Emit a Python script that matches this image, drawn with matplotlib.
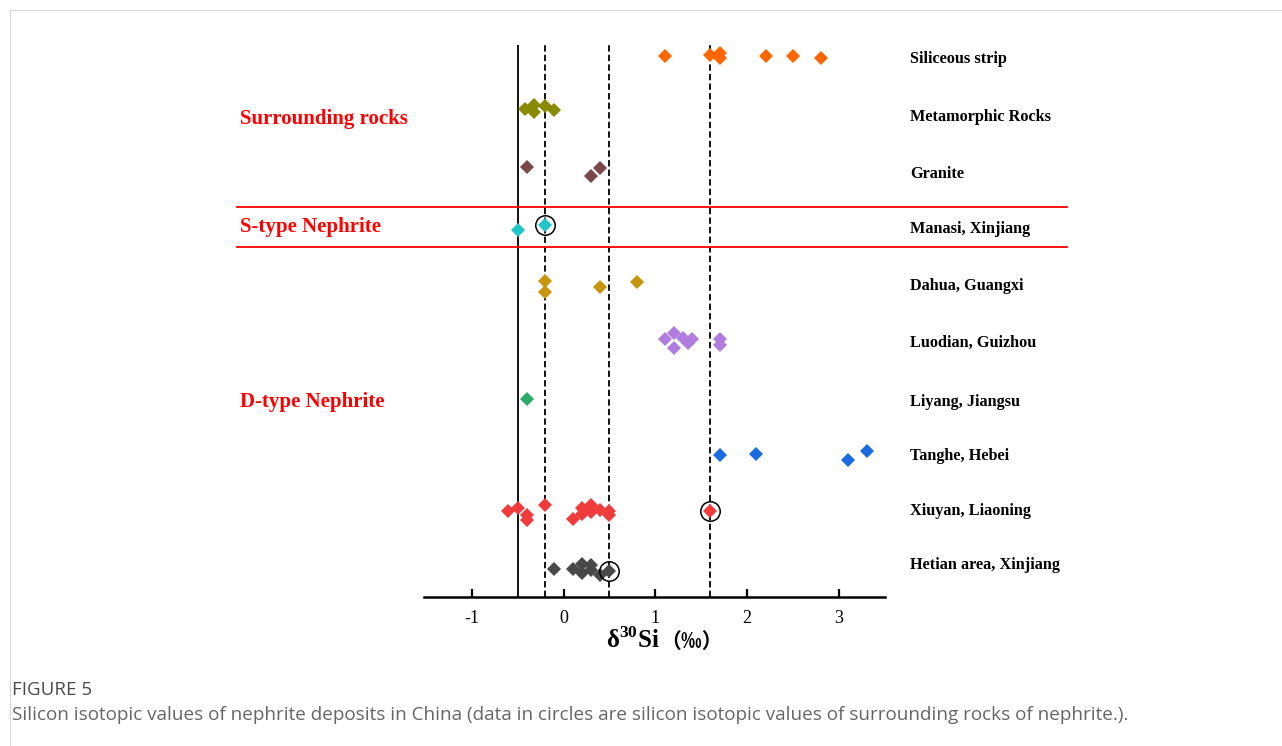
import matplotlib
matplotlib.use("Agg")
import matplotlib.pyplot as plt
from matplotlib.lines import Line2D

# ---- data (x = delta30Si in permil, y = row position, Siliceous strip = 10 ... Hetian = 1) ----
labels = ["Siliceous strip", "Metamorphic Rocks", "Granite", "Manasi, Xinjiang",
          "Dahua, Guangxi", "Luodian, Guizhou", "Liyang, Jiangsu", "Tanghe, Hebei",
          "Xiuyan, Liaoning", "Hetian area, Xinjiang"]
label_y = [10.0, 8.97, 7.96, 6.98, 5.96, 4.95, 3.90, 2.94, 1.96, 1.0]

siliceous_x = [1.1, 1.6, 1.7, 1.7, 2.2, 2.5, 2.8]
siliceous_y = [10.02, 10.04, 10.07, 9.98, 10.02, 10.02, 9.98]
metamorphic_x = [-0.42, -0.32, -0.32, -0.2, -0.1]
metamorphic_y = [9.08, 9.15, 9.03, 9.12, 9.06]
granite_x = [-0.4, 0.3, 0.4]
granite_y = [8.04, 7.89, 8.03]
manasi_x = [-0.5, -0.2]
manasi_y = [6.92, 7.01]
dahua_x = [-0.2, -0.2, 0.4, 0.8]
dahua_y = [6.02, 5.82, 5.90, 6.00]
luodian_x = [1.1, 1.2, 1.2, 1.3, 1.35, 1.4, 1.7, 1.7]
luodian_y = [4.98, 5.09, 4.82, 5.01, 4.91, 4.98, 4.98, 4.88]
liyang_x = [-0.4]
liyang_y = [3.92]
tanghe_x = [1.7, 2.1, 3.1, 3.3]
tanghe_y = [2.92, 2.94, 2.83, 3.00]
xiuyan_x = [-0.6, -0.5, -0.4, -0.4, -0.2, 0.1, 0.2, 0.2, 0.3, 0.3, 0.4, 0.5, 0.5, 1.6]
xiuyan_y = [1.93, 1.97, 1.85, 1.76, 2.03, 1.78, 1.97, 1.87, 2.03, 1.91, 1.94, 1.93, 1.85, 1.925]
hetian_x = [-0.1, 0.1, 0.2, 0.2, 0.3, 0.3, 0.4, 0.5]
hetian_y = [0.89, 0.89, 0.98, 0.82, 0.96, 0.875, 0.79, 0.857]

# surrounding-rock values (circled)
circle_x = [-0.2, 1.6, 0.5]
circle_y = [7.01, 1.925, 0.857]

solid_line = -0.5
dashed_lines = [-0.2, 0.5, 1.6]

groups = [
    (siliceous_x, siliceous_y, "#FF6600"),
    (metamorphic_x, metamorphic_y, "#8A8A00"),
    (granite_x, granite_y, "#7A4848"),
    (manasi_x, manasi_y, "#22C4C8"),
    (dahua_x, dahua_y, "#C8960C"),
    (luodian_x, luodian_y, "#B07CDF"),
    (liyang_x, liyang_y, "#2BAA6A"),
    (tanghe_x, tanghe_y, "#1A6BE0"),
    (xiuyan_x, xiuyan_y, "#EF3B3B"),
    (hetian_x, hetian_y, "#484848"),
]

plt.rcParams["font.family"] = ["Liberation Serif", "Noto Sans CJK SC", "DejaVu Sans"]
plt.rcParams["mathtext.fontset"] = "custom"
plt.rcParams["mathtext.rm"] = "Liberation Serif"
plt.rcParams["mathtext.bf"] = "Liberation Serif:bold"
plt.rcParams["axes.unicode_minus"] = False

fig = plt.figure(figsize=(12.82, 7.46), dpi=100)
ax = fig.add_axes([0.3307, 0.1997, 0.3596, 0.74])

ax.axvline(solid_line, color="black", lw=1.3, zorder=1)
for xv in dashed_lines:
    ax.axvline(xv, color="black", lw=1.3, linestyle=(0, (3.5, 1.8)), zorder=1)

for xs, ys, col in groups:
    ax.plot(xs, ys, linestyle="none", marker="D", ms=6.7, color=col,
            markeredgewidth=0, zorder=3)

ax.plot(circle_x, circle_y, linestyle="none", marker="o", ms=14,
        markerfacecolor="none", markeredgecolor="black", markeredgewidth=1.1, zorder=4)

# red separators between groups
for yv in [7.33, 6.62]:
    ax.axhline(yv, xmin=-0.406, xmax=1.395, color="red", lw=1.3, clip_on=False)

ytrans = ax.get_yaxis_transform()
ax.text(-0.40, 8.90, "Surrounding rocks", transform=ytrans,
        color="red", fontsize=15, fontweight="bold", va="center", ha="left")
ax.text(-0.40, 6.98, "S-type Nephrite", transform=ytrans,
        color="red", fontsize=15, fontweight="bold", va="center", ha="left")
ax.text(-0.40, 3.86, "D-type Nephrite", transform=ytrans,
        color="red", fontsize=15, fontweight="bold", va="center", ha="left")

ax.set_xlim(-1.52, 3.5)
ax.set_ylim(0.395, 10.213)
ax.set_xticks([-1, 0, 1, 2, 3])
ax.tick_params(axis="x", direction="in", length=6, width=1.6, labelsize=13, pad=9)

ax.yaxis.tick_right()
ax.set_yticks(label_y)
ax.set_yticklabels(labels, fontsize=11.7, fontweight="bold")
ax.tick_params(axis="y", length=0, pad=18)

for side in ["left", "top", "right"]:
    ax.spines[side].set_visible(False)
ax.spines["bottom"].set_linewidth(1.8)

# x label: delta notation + full-width bracketed per-mille sign
ax.text(0.512, -0.078, "δ$^{\\mathbf{30}}$Si", transform=ax.transAxes,
        fontsize=18, fontweight="bold", ha="right", va="center")
ax.text(0.512, -0.080, "（‰）", transform=ax.transAxes,
        family=["Noto Sans CJK SC", "DejaVu Sans"],
        fontsize=15, fontweight="bold", ha="left", va="center")

# page frame and caption
fig.add_artist(Line2D([10 / 1282, 1], [1 - 10 / 746, 1 - 10 / 746], color="#d5d5d5", lw=0.8))
fig.add_artist(Line2D([10 / 1282, 10 / 1282], [0, 1 - 10 / 746], color="#d5d5d5", lw=0.8))
fig.text(12 / 1282, 1 - 690 / 746, "FIGURE 5", family=["Open Sans", "DejaVu Sans"],
         fontsize=13.5, color="#4a4a4a", va="center")
fig.text(12 / 1282, 1 - 715 / 746,
         "Silicon isotopic values of nephrite deposits in China (data in circles are silicon "
         "isotopic values of surrounding rocks of nephrite.).",
         family=["Open Sans", "DejaVu Sans"], fontsize=13.55, color="#666666", va="center")

fig.savefig("out.png", dpi=100)
